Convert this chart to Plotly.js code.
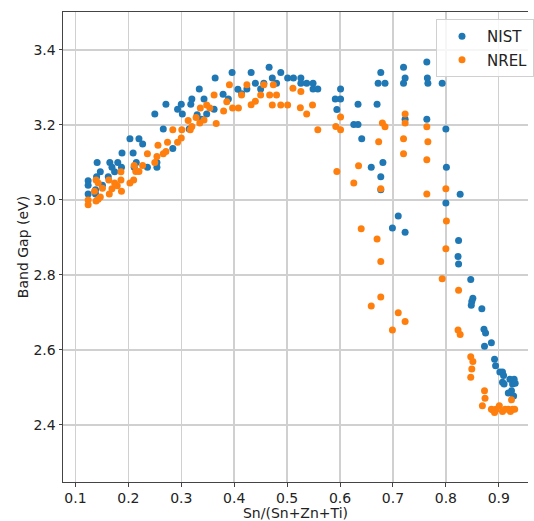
<!DOCTYPE html>
<html>
<head>
<meta charset="utf-8">
<script src="https://cdn.plot.ly/plotly-3.0.1.min.js"></script>
<style>html,body{margin:0;padding:0;background:#fff;}#chart{width:534px;height:521px;}</style>
</head>
<body>
<div id="chart"></div>
<script>
const seriesNames = ["NIST", "NREL"];
const nistX = [0.364,0.396,0.407,0.334,0.320,0.343,0.379,0.389,0.300,0.271,0.293,0.318,0.362,0.302,0.250,0.330,0.348,0.338,0.266,0.315,0.203,0.220,0.227,0.188,0.209,0.284,0.141,0.165,0.180,0.215,0.254,0.169,0.187,0.147,0.174,0.211,0.236,0.254,0.162,0.140,0.124,0.124,0.151,0.138,0.124,0.138,
0.414,0.432,0.466,0.488,0.472,0.440,0.456,0.480,0.501,0.512,0.526,0.526,0.537,0.549,0.549,0.558,0.450,0.424,0.601,0.591,0.601,0.594,0.634,0.626,0.634,0.641,0.659,
0.764,0.720,0.677,0.672,0.685,0.723,0.720,0.765,0.766,0.793,0.670,0.723,0.764,0.800,0.681,0.677,0.677,0.801,0.827,0.800,0.710,0.699,0.723,0.824,0.823,0.824,0.847,0.851,0.849,0.848,0.868,0.872,0.875,0.886,0.873,0.892,0.894,0.902,0.907,0.909,0.921,0.929,0.907,0.910,0.926,0.931,0.924,0.918,0.928];
const nistY = [3.325,3.340,3.295,3.296,3.269,3.269,3.282,3.269,3.255,3.255,3.242,3.255,3.242,3.229,3.229,3.227,3.229,3.215,3.189,3.189,3.163,3.163,3.149,3.125,3.125,3.137,3.100,3.100,3.100,3.100,3.100,3.087,3.087,3.075,3.075,3.087,3.087,3.087,3.062,3.062,3.051,3.039,3.039,3.027,3.016,3.016,
3.283,3.340,3.354,3.340,3.325,3.311,3.311,3.311,3.325,3.325,3.325,3.311,3.311,3.311,3.296,3.296,3.296,3.296,3.296,3.269,3.269,3.241,3.255,3.201,3.201,3.163,3.087,
3.368,3.354,3.340,3.311,3.311,3.325,3.311,3.325,3.311,3.311,3.255,3.215,3.215,3.189,3.100,3.062,3.027,3.087,3.015,2.992,2.957,2.925,2.914,2.892,2.849,2.829,2.788,2.738,2.729,2.719,2.710,2.655,2.645,2.619,2.610,2.575,2.558,2.541,2.541,2.532,2.522,2.522,2.514,2.509,2.509,2.511,2.491,2.485,2.477];
const nrelX = [0.391,0.362,0.386,0.336,0.348,0.354,0.397,0.380,0.328,0.343,
0.335,0.366,0.313,0.320,0.317,0.301,0.284,0.300,0.293,0.274,
0.256,0.271,0.266,0.254,0.236,0.250,0.227,0.211,0.214,0.220,
0.186,0.186,0.210,0.203,0.174,0.163,0.179,0.139,0.143,0.151,
0.169,0.187,0.164,0.136,0.147,0.139,0.124,0.124,0.143,
0.408,0.414,0.424,0.432,0.440,0.450,0.456,0.467,0.480,0.474,0.472,
0.488,0.501,0.511,0.526,0.525,0.537,0.548,0.558,0.592,0.601,
0.601,0.594,0.635,0.626,0.640,
0.680,0.685,0.723,0.723,0.764,0.673,0.720,0.766,0.720,0.764,
0.677,0.764,0.800,0.801,0.670,0.800,0.677,0.793,0.824,0.677,
0.659,0.710,0.723,0.699,0.823,0.827,
0.847,0.851,0.849,0.847,0.873,0.874,0.869,0.924,0.886,0.892,
0.901,0.907,0.912,0.922,0.926,0.930,0.918,0.895,0.889];
const nrelY = [3.307,3.280,3.262,3.245,3.253,3.245,3.245,3.237,3.220,3.213,
3.205,3.204,3.212,3.196,3.187,3.187,3.187,3.165,3.154,3.154,
3.146,3.129,3.123,3.116,3.123,3.100,3.092,3.092,3.076,3.076,
3.075,3.053,3.053,3.045,3.045,3.053,3.038,3.053,3.045,3.031,
3.030,3.023,3.016,3.023,3.008,2.997,3.000,2.987,3.002,
3.245,3.280,3.307,3.254,3.263,3.280,3.307,3.280,3.280,3.307,3.253,
3.253,3.253,3.298,3.289,3.246,3.229,3.253,3.187,3.196,3.221,
3.187,3.076,3.091,3.045,2.923,
3.205,3.195,3.229,3.205,3.195,3.155,3.163,3.155,3.123,3.107,
3.030,3.016,3.030,2.944,2.896,2.870,2.836,2.790,2.759,2.741,
2.717,2.699,2.676,2.653,2.653,2.641,
2.582,2.569,2.549,2.527,2.491,2.471,2.451,2.467,2.442,2.433,
2.451,2.436,2.442,2.436,2.442,2.442,2.442,2.442,2.440];

const FONT = "DejaVu Sans, sans-serif";
const traces = [
  {x: nistX, y: nistY, name: seriesNames[0], legendgroup: "a", type: "scatter", mode: "markers",
   marker: {color: "#1f77b4", size: 7}},
  {x: nrelX, y: nrelY, name: seriesNames[1], legendgroup: "b", type: "scatter", mode: "markers",
   marker: {color: "#ff7f0e", size: 7}}
];
const axisCommon = {
  showline: true, linecolor: "#444", linewidth: 1, mirror: false,
  showgrid: true, gridcolor: "#d0d0d0", gridwidth: 1.4,
  zeroline: false, ticks: "outside", ticklen: 3.5, tickcolor: "#444", tickwidth: 1,
  tickfont: {family: FONT, size: 14, color: "#222"}
};
const layout = {
  width: 534, height: 521,
  margin: {l: 63, r: 0, t: 12, b: 39},
  paper_bgcolor: "#fff", plot_bgcolor: "#fff",
  showlegend: true,
  xaxis: Object.assign({}, axisCommon, {
    range: [0.0765, 0.9552], tick0: 0, dtick: 0.1, tickformat: ".1f", mirror: true,
    title: {text: "Sn/(Sn+Zn+Ti)", font: {family: FONT, size: 14, color: "#222"}, standoff: 4}
  }),
  yaxis: Object.assign({}, axisCommon, {
    range: [2.248, 3.501], tick0: 2.4, dtick: 0.2, tickformat: ".1f",
    title: {text: "Band Gap (eV)", font: {family: FONT, size: 14, color: "#222"}, standoff: 1}
  }),
  legend: {
    x: 0.8025, y: 0.985, xanchor: "left", yanchor: "top",
    bgcolor: "rgba(255,255,255,0.8)", bordercolor: "#d0d0d0", borderwidth: 1,
    font: {family: FONT, size: 15, color: "#222"},
    itemwidth: 40, tracegroupgap: 1, traceorder: "grouped"
  }
};
Plotly.newPlot("chart", traces, layout, {displayModeBar: false, staticPlot: true});
</script>
</body>
</html>
